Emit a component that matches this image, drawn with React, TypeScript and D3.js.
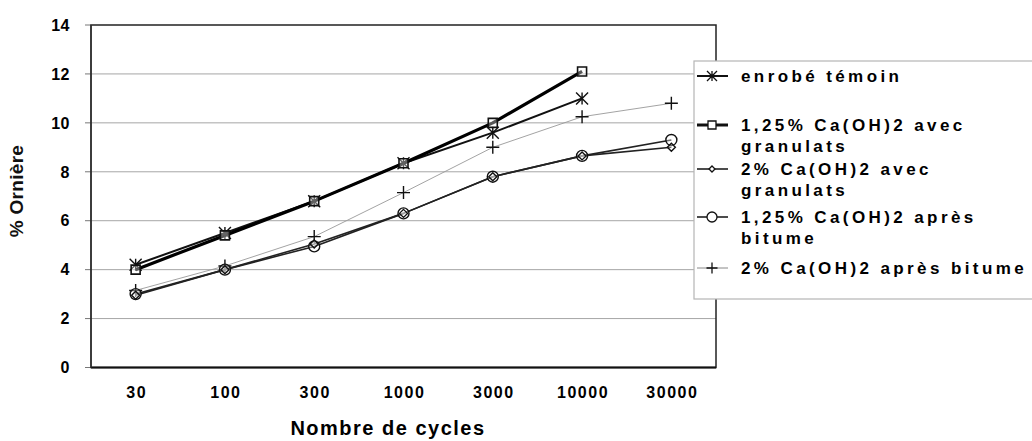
import React from "react";
import * as d3 from "d3";

const categories = ["30", "100", "300", "1000", "3000", "10000", "30000"];
const yTicks = [0, 2, 4, 6, 8, 10, 12, 14];

const temoin = [4.2, 5.5, 6.8, 8.35, 9.6, 11.0, null];
const ca125Avec = [4.0, 5.4, 6.8, 8.35, 10.0, 12.1, null];
const ca2Avec = [2.95, 4.0, 5.05, 6.3, 7.8, 8.65, 9.0];
const ca125Apres = [3.0, 4.0, 4.95, 6.3, 7.8, 8.65, 9.3];
const ca2Apres = [3.15, 4.15, 5.35, 7.15, 9.0, 10.25, 10.8];

const seriesNames = [
  ["enrobé témoin"],
  ["1,25% Ca(OH)2 avec", "granulats"],
  ["2% Ca(OH)2 avec", "granulats"],
  ["1,25% Ca(OH)2 après", "bitume"],
  ["2% Ca(OH)2 après bitume"],
];

type Series = {
  values: (number | null)[];
  marker: string;
  width: number;
  color: string;
};

const series: Series[] = [
  { values: temoin, marker: "star", width: 2, color: "#111" },
  { values: ca125Avec, marker: "square", width: 3.2, color: "#000" },
  { values: ca2Avec, marker: "diamond", width: 1.6, color: "#222" },
  { values: ca125Apres, marker: "circle", width: 1.6, color: "#222" },
  { values: ca2Apres, marker: "plus", width: 0.9, color: "#999" },
];

const FONT = "'Liberation Sans', Arial, sans-serif";

function markerPath(kind: string, s: number): string {
  const h = s / 2;
  switch (kind) {
    case "star":
      return `M${-h},${-h}L${h},${h}M${-h},${h}L${h},${-h}M0,${-h}L0,${h}`;
    case "plus":
      return `M${-h},0L${h},0M0,${-h}L0,${h}`;
    case "square":
      return `M${-h},${-h}H${h}V${h}H${-h}Z`;
    case "diamond":
      return `M0,${-h}L${h},0L0,${h}L${-h},0Z`;
    case "circle":
      return `M${h},0A${h},${h} 0 1,1 ${-h},0A${h},${h} 0 1,1 ${h},0Z`;
  }
  return "";
}

const markerSize: Record<string, number> = {
  star: 12,
  plus: 13,
  square: 9,
  diamond: 8,
  circle: 11,
};
const legendMarkerSize: Record<string, number> = {
  star: 10,
  plus: 11,
  square: 8,
  diamond: 6,
  circle: 10,
};

export default function App() {
  const W = 1032;
  const H = 441;
  const left = 91;
  const right = 716;
  const top = 25;
  const bottom = 367.5;

  const x = d3.scaleBand<string>().domain(categories).range([left, right]).padding(0);
  const y = d3.scaleLinear().domain([0, 14]).range([bottom, top]);
  const cx = (i: number) => (x(categories[i]) as number) + x.bandwidth() / 2;

  const line = d3
    .line<number | null>()
    .defined((d) => d !== null)
    .x((_, i) => cx(i))
    .y((d) => y(d as number));

  const order = [4, 3, 2, 0, 1];
  const legendRows = [76, 125, 169, 217, 268];
  const lineGap = 21;

  return (
    <svg
      width={W}
      height={H}
      style={{ position: "absolute", left: 0, top: 0, background: "#fff" }}
      fontFamily={FONT}
    >
      <rect x={0} y={0} width={W} height={H} fill="#fff" />
      {yTicks.slice(1, -1).map((t) => (
        <line key={t} x1={left} x2={right} y1={y(t)} y2={y(t)} stroke="#a6a6a6" strokeWidth={1} />
      ))}
      {yTicks.map((t) => (
        <line key={"tk" + t} x1={left - 6} x2={left} y1={y(t)} y2={y(t)} stroke="#777" strokeWidth={1} />
      ))}
      <rect x={left} y={top} width={right - left} height={bottom - top} fill="none" stroke="#222" strokeWidth={1.5} />
      <line x1={left} x2={right} y1={bottom} y2={bottom} stroke="#111" strokeWidth={2} />
      <line x1={left} x2={left} y1={top} y2={bottom} stroke="#333" strokeWidth={1.5} />

      {yTicks.map((t) => (
        <text
          key={"yl" + t}
          x={70}
          y={y(t)}
          dy="0.36em"
          textAnchor="end"
          fontSize={16}
          fontWeight="bold"
          fill="#000"
          letterSpacing={0.5}
        >
          {t}
        </text>
      ))}
      {categories.map((c, i) => (
        <text
          key={"xl" + c}
          x={cx(i) + 1}
          y={398}
          textAnchor="middle"
          fontSize={16}
          fontWeight="bold"
          fill="#000"
          letterSpacing={1.5}
        >
          {c}
        </text>
      ))}
      <text
        x={388}
        y={435}
        textAnchor="middle"
        fontSize={20}
        fontWeight="bold"
        fill="#000"
        letterSpacing={1.5}
      >
        Nombre de cycles
      </text>
      <text
        transform={`translate(23,191) rotate(-90)`}
        textAnchor="middle"
        fontSize={19}
        fontWeight="bold"
        fill="#111"
        letterSpacing={0.3}
      >
        % Ornière
      </text>

      {order.map((si) => {
        const s = series[si];
        return (
          <path
            key={"ln" + si}
            d={line(s.values) || ""}
            fill="none"
            stroke={s.color}
            strokeWidth={s.width}
            strokeLinejoin="round"
          />
        );
      })}
      {order.map((si) => {
        const s = series[si];
        return (
          <g key={"mk" + si}>
            {s.values.map((v, i) =>
              v === null ? null : (
                <path
                  key={i}
                  transform={`translate(${cx(i)},${y(v)})`}
                  d={markerPath(s.marker, markerSize[s.marker])}
                  fill={s.marker === "star" || s.marker === "plus" ? "none" : "rgba(255,255,255,0.35)"}
                  stroke="#111"
                  strokeWidth={s.marker === "square" ? 1.6 : 1.4}
                />
              )
            )}
          </g>
        );
      })}

      <rect x={694} y={61} width={350} height={238} fill="#fff" stroke="#b5b5b5" strokeWidth={1.2} />
      {series.map((s, i) => {
        const ly = legendRows[i];
        return (
          <g key={"lg" + i}>
            <line
              x1={697}
              x2={728}
              y1={ly}
              y2={ly}
              stroke={i === 4 ? "#888" : "#111"}
              strokeWidth={i === 1 ? 3 : i === 0 ? 2 : i === 4 ? 1 : 1.5}
            />
            <path
              transform={`translate(712,${ly})`}
              d={markerPath(s.marker, legendMarkerSize[s.marker])}
              fill={s.marker === "star" || s.marker === "plus" ? "none" : "#fff"}
              stroke="#111"
              strokeWidth={1.3}
            />
            {seriesNames[i].map((t, k) => (
              <text
                key={k}
                x={741}
                y={ly + k * lineGap}
                dy="0.36em"
                fontSize={17}
                fontWeight="bold"
                fill="#000"
                letterSpacing={3.4}
              >
                {t}
              </text>
            ))}
          </g>
        );
      })}
    </svg>
  );
}
